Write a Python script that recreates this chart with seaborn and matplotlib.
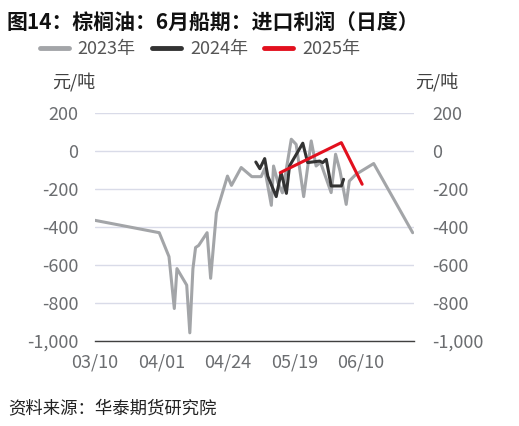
import numpy as np
import pandas as pd
import matplotlib
matplotlib.use('agg')
import matplotlib.pyplot as plt
from matplotlib.ticker import FuncFormatter
import seaborn as sns

# x = trading-day index on a category-like axis (one tick every 15 points)
x_2023 = [0, 14.5, 16.7, 17.9, 18.5, 20.7, 21.4, 22.1, 22.7, 23.4, 25.3, 26.1, 27.4,
          29.9, 30.8, 33.0, 35.4, 37.5, 38.3, 39.8, 40.3, 41.3, 42.3, 44.3, 45.4,
          47.1, 48.8, 49.9, 50.9, 53.3, 54.3, 55.3, 56.7, 57.4, 58.9, 62.9, 71.7]
y_2023 = [-365, -430, -556, -829, -619, -706, -957, -620, -508, -497, -430, -670, -325,
          -132, -181, -87, -135, -135, -93, -286, -79, -167, -220, 62, 35,
          -240, 53, -79, -60, -219, -17, -105, -281, -158, -123, -66, -430]

x_2024 = [36.3, 37.2, 38.3, 39.0, 40.9, 42.0, 43.2, 43.9, 46.9, 48.0, 50.7, 51.4,
          52.2, 53.3, 55.6, 56.1]
y_2024 = [-58, -93, -40, -132, -240, -114, -223, -79, 41, -61, -53, -61,
          -44, -184, -184, -149]

x_2025 = [41.8, 55.6, 60.3]
y_2025 = [-114, 44, -175]

tick_pos = [0, 15, 30, 45, 60]
tick_labels = ['03/10', '04/01', '04/24', '05/19', '06/10']
years = ['2023年', '2024年', '2025年']
colors = ['#a3a5a8', '#333333', '#e2101e']

df = pd.concat([
    pd.DataFrame({'x': x_2023, 'v': y_2023, 'year': years[0]}),
    pd.DataFrame({'x': x_2024, 'v': y_2024, 'year': years[1]}),
    pd.DataFrame({'x': x_2025, 'v': y_2025, 'year': years[2]}),
])

sns.set_theme(style='white')
plt.rcParams['font.family'] = ['Noto Sans CJK SC', 'DejaVu Sans']

fig = plt.figure(figsize=(5.19, 4.26), dpi=100)
ax = fig.add_axes([95 / 519, 1 - 341 / 426, 319 / 519, 228 / 426])

sns.lineplot(data=df, x='x', y='v', hue='year', palette=colors, estimator=None,
             sort=False, linewidth=2.2, ax=ax, legend=False)

ax.set_xlim(0, 72)
ax.set_ylim(-1000, 200)
yt = np.arange(-1000, 201, 200)
ax.set_yticks(yt)
ax.yaxis.set_major_formatter(FuncFormatter(lambda v, p: '{:,.0f}'.format(v)))
ax.set_xticks(tick_pos + [72])
ax.set_xticklabels(tick_labels + [''])
ax.set_xlabel('')
ax.set_ylabel('')
ax.grid(axis='y', color='#d9dbe8', linewidth=1)
ax.grid(axis='x', visible=False)
for s in ['left', 'right', 'top']:
    ax.spines[s].set_visible(False)
ax.spines['bottom'].set_color('#404040')
ax.spines['bottom'].set_linewidth(1)
ax.tick_params(axis='x', direction='in', length=5, width=1, color='#404040',
               labelsize=13, labelcolor='#6b6d70', pad=9)
ax.tick_params(axis='y', length=0, labelsize=13, labelcolor='#6b6d70', pad=12)

ax2 = ax.twinx()
ax2.set_ylim(ax.get_ylim())
ax2.set_yticks(yt)
ax2.yaxis.set_major_formatter(FuncFormatter(lambda v, p: '{:,.0f}'.format(v)))
for s in ['left', 'right', 'top', 'bottom']:
    ax2.spines[s].set_visible(False)
ax2.tick_params(axis='y', length=0, labelsize=13, labelcolor='#6b6d70', pad=13)
ax2.grid(False)

# unit labels
fig.text(52 / 519, 1 - 82 / 426, '元/吨', fontsize=13, color='#404040', va='center')
fig.text(415 / 519, 1 - 82 / 426, '元/吨', fontsize=13, color='#404040', va='center')

# legend
handles = [plt.Line2D([], [], color=c, linewidth=3.5) for c in colors]
fig.legend(handles, years, loc='center', bbox_to_anchor=(200 / 519, 1 - 49 / 426),
           ncol=3, frameon=False, fontsize=13, handlelength=1.6, columnspacing=0.9,
           handletextpad=0.5, labelcolor='#555555')

fig.text(7 / 519, 1 - 22 / 426, '图14：棕榈油：6月船期：进口利润（日度）', fontsize=15,
         fontweight='bold', color='#111111', va='center')
fig.text(8 / 519, 1 - 408 / 426, '资料来源：华泰期货研究院', fontsize=12.5,
         style='italic', color='#222222', va='center')

fig.savefig('out.png', dpi=100)
